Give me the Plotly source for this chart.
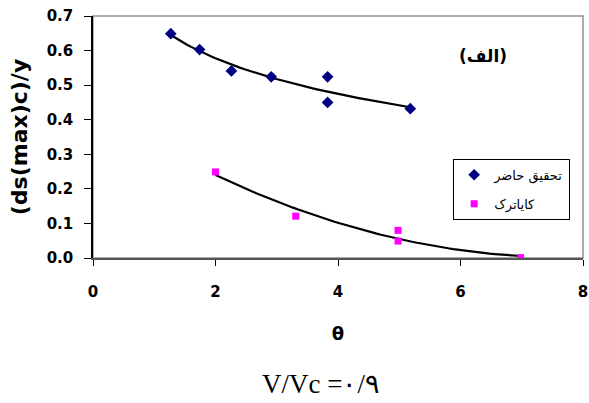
import numpy as np
import plotly.graph_objects as go

# Data
present_x = [1.27, 1.74, 2.26, 2.91, 3.83, 3.83, 5.18]
present_y = [0.649, 0.603, 0.541, 0.524, 0.524, 0.450, 0.432]
kaya_x = [2.0, 3.31, 4.98, 4.98, 6.98]
kaya_y = [0.249, 0.121, 0.080, 0.049, 0.001]
name_present = "تحقیق حاضر"
name_kaya = "کایاترک"
x_ticks = [0, 2, 4, 6, 8]
y_ticks = [0.0, 0.1, 0.2, 0.3, 0.4, 0.5, 0.6, 0.7]

# Trend lines (logarithmic and 2nd order polynomial fits of the data)
bp = np.polyfit(np.log(present_x), present_y, 1)
tx1 = np.linspace(min(present_x), max(present_x), 60)
ty1 = np.polyval(bp, np.log(tx1))
bk = np.polyfit(kaya_x, kaya_y, 2)
tx2 = np.linspace(min(kaya_x), max(kaya_x), 60)
ty2 = np.polyval(bk, tx2)

fig = go.Figure()
fig.add_trace(go.Scatter(x=tx1, y=ty1, mode="lines", line=dict(color="black", width=2.2),
                         showlegend=False, hoverinfo="skip"))
fig.add_trace(go.Scatter(x=tx2, y=ty2, mode="lines", line=dict(color="black", width=2.2),
                         showlegend=False, hoverinfo="skip"))
fig.add_trace(go.Scatter(x=present_x, y=present_y, mode="markers", name=name_present,
                         legendgroup="a",
                         marker=dict(symbol="diamond", size=9, color="#000080")))
fig.add_trace(go.Scatter(x=kaya_x, y=kaya_y, mode="markers", name=name_kaya,
                         legendgroup="b",
                         marker=dict(symbol="square", size=7, color="#FF00FF")))

font = "DejaVu Sans, Arial, sans-serif"
fig.update_layout(
    width=589, height=403,
    margin=dict(l=93, r=6, t=16, b=145),
    paper_bgcolor="white", plot_bgcolor="white",
    font=dict(family=font, color="black"),
    showlegend=True,
    legend=dict(x=0.735, y=0.41, xanchor="left", yanchor="top",
                bgcolor="white", bordercolor="black", borderwidth=1,
                font=dict(size=13, family="DejaVu Sans, Arial, sans-serif"),
                itemwidth=30, tracegroupgap=9),
    xaxis=dict(range=[0, 8], tickvals=x_ticks, showgrid=False, zeroline=False,
               automargin=False,
               showline=True, linecolor="#555555", linewidth=1.5,
               ticks="outside", ticklen=6, tickcolor="black",
               tickfont=dict(size=15, family=font, weight="bold"),
               ticklabelstandoff=13,
               title=dict(text="<b>θ</b>", font=dict(size=18), standoff=28)),
    yaxis=dict(range=[0, 0.7], tickvals=y_ticks, tickformat=".1f", showgrid=False,
               automargin=False,
               zeroline=False, showline=True, linecolor="black", linewidth=1.5,
               ticks="outside", ticklen=7, tickcolor="black",
               tickfont=dict(size=15, family=font, weight="bold"),
               ticklabelstandoff=8,
               title=dict(text="<b>(ds(max)c)/y</b>", font=dict(size=22), standoff=13)),
)
fig.add_shape(type="rect", xref="paper", yref="paper", x0=0, x1=1, y0=0, y1=1,
              line=dict(color="#909090", width=1.5), layer="below")
fig.add_annotation(text="<b>(الف)</b>", xref="paper", yref="paper", x=0.849, y=0.885,
                   showarrow=False, font=dict(size=17, family="DejaVu Sans, Arial"))
fig.add_annotation(text="V/Vc =۰/۹", xref="paper", yref="paper", x=0.465, y=-0.522,
                   xanchor="center", yanchor="middle", showarrow=False,
                   font=dict(size=27, family="Liberation Serif, Times New Roman, serif"))

fig.write_html("out.html", config={"displayModeBar": False},
               post_script="document.body.style.margin='0';document.body.style.padding='0';")
